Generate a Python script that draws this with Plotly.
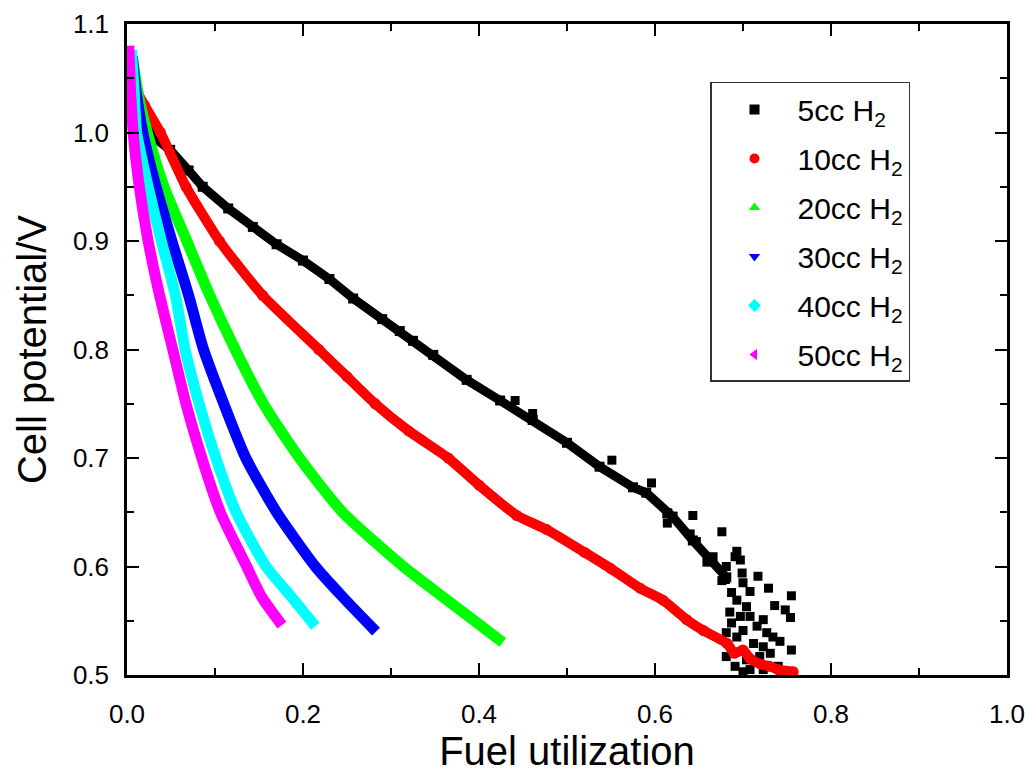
import plotly.graph_objects as go

# ---------------- data ----------------
labels = ["5cc H<sub>2</sub>", "10cc H<sub>2</sub>", "20cc H<sub>2</sub>",
          "30cc H<sub>2</sub>", "40cc H<sub>2</sub>", "50cc H<sub>2</sub>"]
colors = ["#000000", "#ff0000", "#00ff00", "#0000ff", "#00ffff", "#ff00ff"]
symbols = ["square", "circle", "triangle-up", "triangle-down", "diamond", "triangle-left"]

# 5cc H2 : main band
x5 = [0.0, 0.01, 0.02, 0.03, 0.049, 0.07, 0.086, 0.115, 0.143, 0.17, 0.2, 0.23, 0.257,
      0.29, 0.31, 0.325, 0.348, 0.386, 0.424, 0.461, 0.5, 0.537, 0.575, 0.59, 0.614,
      0.62, 0.643, 0.662, 0.681]
y5 = [1.03, 1.02, 1.008, 0.996, 0.984, 0.965, 0.95, 0.93, 0.913, 0.897, 0.882, 0.865, 0.847,
      0.828, 0.817, 0.808, 0.795, 0.772, 0.753, 0.735, 0.714, 0.692, 0.673, 0.668, 0.649,
      0.646, 0.624, 0.606, 0.59]
# 5cc H2 : scattered points (outliers and noisy tail)
x5s = [0.441, 0.461, 0.551, 0.596, 0.643, 0.676, 0.614, 0.64, 0.647, 0.659, 0.666,
       0.676, 0.693, 0.691, 0.697, 0.717, 0.729, 0.755, 0.736, 0.748, 0.681, 0.68, 0.687,
       0.699, 0.70, 0.708, 0.693, 0.704, 0.685, 0.697, 0.708, 0.723, 0.687, 0.70, 0.716,
       0.727, 0.734, 0.742, 0.755, 0.681, 0.693, 0.712, 0.723, 0.681, 0.691, 0.704, 0.719,
       0.731, 0.708, 0.723, 0.74, 0.70, 0.754]
y5s = [0.753, 0.741, 0.698, 0.677, 0.647, 0.632, 0.64, 0.63, 0.623, 0.604, 0.609,
       0.587, 0.614, 0.609, 0.606, 0.591, 0.58, 0.573, 0.564, 0.56, 0.60, 0.588, 0.576,
       0.594, 0.585, 0.577, 0.569, 0.563, 0.558, 0.554, 0.554, 0.551, 0.548, 0.541, 0.545,
       0.539, 0.535, 0.531, 0.523, 0.539, 0.535, 0.529, 0.526, 0.517, 0.508, 0.514, 0.517,
       0.52, 0.505, 0.505, 0.508, 0.503, 0.553]

# 10cc H2
x10 = [0.013, 0.02, 0.038, 0.067, 0.105, 0.154, 0.218, 0.25, 0.282, 0.32, 0.365, 0.40,
       0.443, 0.477, 0.52, 0.55, 0.583, 0.609, 0.636, 0.655, 0.682, 0.69, 0.70, 0.708,
       0.72, 0.73, 0.74, 0.757]
y10 = [1.035, 1.025, 1.0, 0.95, 0.9, 0.85, 0.8, 0.775, 0.75, 0.725, 0.7, 0.675,
       0.647, 0.634, 0.613, 0.598, 0.58, 0.569, 0.551, 0.541, 0.529, 0.52, 0.523, 0.515,
       0.51, 0.508, 0.505, 0.503]

# 20cc H2
x20 = [0.006, 0.014, 0.023, 0.042, 0.068, 0.094, 0.123, 0.155, 0.196, 0.245, 0.314, 0.359, 0.427]
y20 = [1.07, 1.03, 1.0, 0.95, 0.9, 0.85, 0.8, 0.75, 0.7, 0.65, 0.6, 0.572, 0.53]

# 30cc H2
x30 = [0.006, 0.01, 0.018, 0.033, 0.051, 0.07, 0.087, 0.11, 0.135, 0.17, 0.214, 0.245, 0.283]
y30 = [1.07, 1.04, 1.0, 0.95, 0.9, 0.85, 0.8, 0.75, 0.7, 0.65, 0.6, 0.572, 0.54]

# 40cc H2
x40 = [0.005, 0.008, 0.011, 0.024, 0.039, 0.055, 0.066, 0.082, 0.101, 0.124, 0.158, 0.187, 0.214]
y40 = [1.076, 1.04, 1.0, 0.95, 0.9, 0.85, 0.8, 0.75, 0.7, 0.65, 0.6, 0.572, 0.545]

# 50cc H2
x50 = [0.002, 0.004, 0.007, 0.014, 0.024, 0.037, 0.052, 0.067, 0.085, 0.106, 0.136, 0.153, 0.176]
y50 = [1.08, 1.04, 1.0, 0.95, 0.9, 0.85, 0.8, 0.75, 0.7, 0.65, 0.6, 0.572, 0.546]

x_ticks = [0.0, 0.2, 0.4, 0.6, 0.8, 1.0]
y_ticks = [0.5, 0.6, 0.7, 0.8, 0.9, 1.0, 1.1]

FONT = "Liberation Sans, Arial, sans-serif"

fig = go.Figure()

# series drawn in order: 5cc at the bottom, 50cc on top
fig.add_trace(go.Scatter(x=x5, y=y5, mode="lines+markers",
                         line=dict(color=colors[0], width=9),
                         marker=dict(symbol="square", size=10, color=colors[0]),
                         showlegend=False, hoverinfo="skip"))
fig.add_trace(go.Scatter(x=x5s, y=y5s, mode="markers",
                         marker=dict(symbol="square", size=9, color=colors[0]),
                         showlegend=False, hoverinfo="skip"))
fig.add_trace(go.Scatter(x=x10, y=y10, mode="lines+markers",
                         line=dict(color=colors[1], width=10, shape="spline", smoothing=0.5),
                         marker=dict(symbol="circle", size=11, color=colors[1]),
                         showlegend=False, hoverinfo="skip"))
bands = [(x20, y20, 2), (x30, y30, 3), (x40, y40, 4), (x50, y50, 5)]
for xs, ys, i in bands:
    fig.add_trace(go.Scatter(x=xs, y=ys, mode="lines",
                             line=dict(color=colors[i], width=11, shape="spline", smoothing=0.6),
                             showlegend=False, hoverinfo="skip"))

# legend entries
for i, lab in enumerate(labels):
    fig.add_trace(go.Scatter(x=[None], y=[None], mode="markers", name=lab,
                             legendgroup="g%d" % i,
                             marker=dict(symbol=symbols[i], size=10, color=colors[i])))

axis_common = dict(
    showline=True, linewidth=2.5, linecolor="black", mirror="ticks",
    ticks="inside", ticklen=12, tickwidth=2, tickcolor="black",
    showgrid=False, zeroline=False, automargin=False,
    tickfont=dict(family=FONT, size=26, color="black"),
)

fig.update_layout(
    width=1033, height=778,
    margin=dict(l=127, r=26, t=24, b=103, autoexpand=False),
    paper_bgcolor="white", plot_bgcolor="white",
    font=dict(family=FONT, color="black"),
    xaxis=dict(range=[0, 1], tickvals=x_ticks, ticktext=["%.1f" % v for v in x_ticks],
               minor=dict(dtick=0.1, ticks="inside", ticklen=7, tickwidth=2, tickcolor="black"),
               title=dict(text="Fuel utilization", font=dict(family=FONT, size=40), standoff=6),
               ticklabelstandoff=14,
               **axis_common),
    yaxis=dict(range=[0.5, 1.1], tickvals=y_ticks, ticktext=["%.1f" % v for v in y_ticks],
               minor=dict(dtick=0.05, ticks="inside", ticklen=7, tickwidth=2, tickcolor="black"),
               title=dict(text="Cell potential/V", font=dict(family=FONT, size=40), standoff=14),
               ticklabelstandoff=10,
               **axis_common),
    legend=dict(x=0.6625, y=0.911, xanchor="left", yanchor="top",
                bgcolor="white", bordercolor="#333333", borderwidth=1.5,
                font=dict(family=FONT, size=30, color="black"),
                tracegroupgap=7, itemwidth=76),
)

fig.write_html("out.html", config={"displayModeBar": False},
               post_script="document.body.style.margin='0px';document.body.style.overflow='hidden';")
